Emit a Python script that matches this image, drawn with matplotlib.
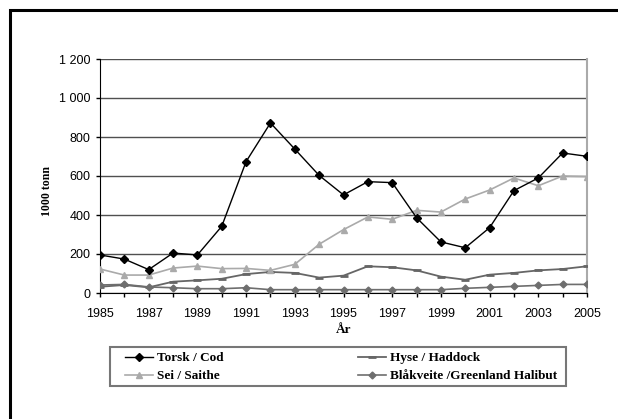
import matplotlib.pyplot as plt
from matplotlib.patches import Rectangle

years = list(range(1985, 2006))
torsk = [195, 174, 120, 205, 195, 342, 674, 872, 738, 603, 503, 571, 566, 386, 262, 232, 335, 525, 590, 718, 701]
sei = [123, 92, 92, 128, 138, 125, 126, 116, 147, 250, 325, 390, 378, 424, 415, 482, 528, 590, 550, 600, 597]
hyse = [32, 41, 29, 58, 65, 73, 97, 108, 103, 79, 89, 137, 132, 116, 84, 68, 94, 103, 116, 123, 137]
blaakveite = [41, 44, 31, 27, 22, 22, 27, 17, 17, 17, 17, 17, 17, 17, 17, 24, 29, 34, 39, 44, 44]

labels = ["Torsk / Cod", "Hyse / Haddock", "Sei / Saithe", "Blåkveite /Greenland Halibut"]
yticks = [0, 200, 400, 600, 800, 1000, 1200]
ytick_labels = ["0", "200", "400", "600", "800", "1 000", "1 200"]

W, H = 618, 419
fig = plt.figure(figsize=(W / 100, H / 100), dpi=100)
ax = fig.add_axes([100 / W, 1 - 293 / H, 487 / W, 234 / H])

# ramme rundt hele figuren
fig.patches.append(Rectangle((10 / W, -0.1), 1.2, (H - 10) / H + 0.1,
                             transform=fig.transFigure, fill=False,
                             edgecolor="black", linewidth=2.2))
# ramme rundt tegnforklaringen
fig.patches.append(Rectangle((110 / W, 1 - 386 / H), 456 / W, 39 / H,
                             transform=fig.transFigure, fill=False,
                             edgecolor="#777777", linewidth=1.5))

l_torsk, = ax.plot(years, torsk, color="black", lw=1, marker="D", ms=4, zorder=5)
l_sei, = ax.plot(years, sei, color="#aaaaaa", lw=1.2, marker="^", ms=5, zorder=4)
l_hyse, = ax.plot(years, hyse, color="#666666", lw=1.3, marker="_", ms=6, mew=2, zorder=3)
l_blaa, = ax.plot(years, blaakveite, color="#6e6e6e", lw=1.2, marker="D", ms=3.5, zorder=3)

ax.set_xlim(1985, 2005)
ax.set_ylim(0, 1200)
ax.set_yticks(yticks)
ax.set_yticklabels(ytick_labels, fontfamily="Liberation Sans", fontsize=9)
ax.set_xticks(years)
ax.set_xticklabels([str(y) if (y - 1985) % 2 == 0 else "" for y in years],
                   fontfamily="Liberation Sans", fontsize=9)
ax.tick_params(axis="both", direction="out", length=3, width=1, color="black")
ax.tick_params(axis="x", pad=7.5)
ax.tick_params(axis="y", pad=4)
ax.grid(axis="y", color="#505050", lw=1)
ax.set_axisbelow(True)

ax.spines["top"].set_visible(False)
ax.spines["bottom"].set_color("black")
ax.spines["left"].set_color("black")
ax.spines["right"].set_color("#aaaaaa")
ax.spines["right"].set_linewidth(1.5)

ax.set_ylabel("1000 tonn", fontfamily="Liberation Serif", fontweight="bold", fontsize=8.5,
              labelpad=4, y=0.436)
ax.set_xlabel("År", fontfamily="Liberation Serif", fontweight="bold", fontsize=9.5, labelpad=3)

leg = fig.legend([l_torsk, l_sei, l_hyse, l_blaa],
                 [labels[0], labels[2], labels[1], labels[3]],
                 ncol=2, loc="upper left", bbox_to_anchor=(125 / W, 1 - 352 / H),
                 frameon=False, borderaxespad=0, borderpad=0,
                 prop={"family": "Liberation Serif", "weight": "bold", "size": 9.5},
                 handlelength=2.1, handletextpad=0.3, labelspacing=0.45, columnspacing=10.2)

fig.savefig("out.png", dpi=100)
